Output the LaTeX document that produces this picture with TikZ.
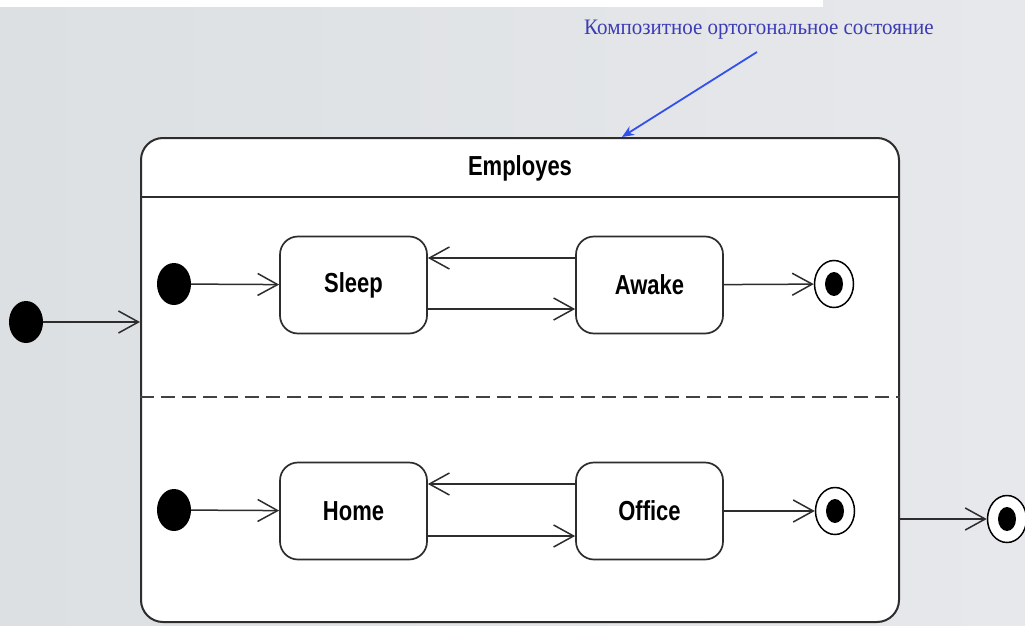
\documentclass[tikz,border=0pt]{standalone}
\usepackage{fontspec}
\usepackage{graphicx}
\setmainfont{Liberation Serif}
\newfontfamily\lblfont{Liberation Sans}
\usetikzlibrary{arrows.meta,shapes.geometric}

\definecolor{bgleft}{RGB}{220,224,227}
\definecolor{bgright}{RGB}{231,232,235}
\definecolor{edge}{RGB}{45,45,45}
\definecolor{notetext}{RGB}{60,60,180}
\definecolor{notearrow}{RGB}{50,80,235}

\newcommand{\stlbl}[1]{\scalebox{1}[1.25]{\lblfont\bfseries #1}}

\tikzset{
    state/.style={draw=edge, line width=1.7pt, fill=white, rounded corners=18pt,
        minimum width=147pt, minimum height=97pt, font=\fontsize{22}{24}\selectfont},
    initial/.style={ellipse, fill=black, minimum width=34pt, minimum height=42pt, inner sep=0pt},
    final/.style={ellipse, draw=black, line width=1.5pt, fill=white, minimum width=39pt,
        minimum height=47pt, inner sep=0pt,
        path picture={\fill[black] (path picture bounding box.center) ellipse (9pt and 12pt);}},
    tr/.style={draw=edge, line width=1.5pt, -{Straight Barb[length=20pt,width=22pt,line width=1.5pt]}}
}

\begin{document}
\begin{tikzpicture}[x=1pt, y=-1pt]

    % background
    \useasboundingbox (0,0) rectangle (1025,626);
    \shade[left color=bgleft, right color=bgright] (0,0) rectangle (1025,626);
    \fill[white] (0,0) rectangle (823,7);

    % composite state
    \node[draw=edge, line width=2pt, fill=white, rounded corners=22pt,
        minimum width=758pt, minimum height=484pt] (employes) at (520,380) {};
    \node[font=\fontsize{22}{24}\selectfont] (title) at (520,168) {\stlbl{Employes}};
    \draw[edge, line width=2pt] (employes.west |- 0,197) -- (employes.east |- 0,197);
    \draw[edge!90, line width=2pt, dash pattern=on 14pt off 7pt] (employes.west |- 0,397) -- (employes.east |- 0,397);

    % upper region
    \node[initial] (init1) at (174,284) {};
    \node[state] (sleep) at (353.5,285) {\stlbl{Sleep}};
    \node[state] (awake) at (649.5,285) {\stlbl{Awake}};
    \node[final] (fin1) at (834,284) {};
    \draw[tr] (init1) -- (sleep);
    \draw[tr] ([yshift=27pt]awake.west) -- ([yshift=27pt]sleep.east);
    \draw[tr] ([yshift=-24pt]sleep.east) -- ([yshift=-24pt]awake.west);
    \draw[tr] (awake) -- (fin1);

    % lower region
    \node[initial] (init2) at (174,510) {};
    \node[state] (home) at (353.5,511) {\stlbl{Home}};
    \node[state] (office) at (649.5,511) {\stlbl{Office}};
    \node[final] (fin2) at (835,511) {};
    \draw[tr] (init2) -- (home);
    \draw[tr] ([yshift=27pt]office.west) -- ([yshift=27pt]home.east);
    \draw[tr] ([yshift=-25pt]home.east) -- ([yshift=-25pt]office.west);
    \draw[tr] (office) -- (fin2);

    % outside
    \node[initial] (init0) at (26,322) {};
    \node[final] (fin0) at (1007,519) {};
    \draw[tr] (init0) -- (init0 -| employes.west);
    \draw[tr] (employes.east |- fin0) -- (fin0);

    % note
    \node[text=notetext, font=\fontsize{21}{24}\selectfont] (note) at (759,30)
        {\scalebox{1}[1.05]{Композитное ортогональное состояние}};
    \draw[notearrow, line width=1.8pt, -{Stealth[length=12pt,width=10pt]}]
        (757,52) -- ([xshift=102pt]employes.north);

\end{tikzpicture}
\end{document}
